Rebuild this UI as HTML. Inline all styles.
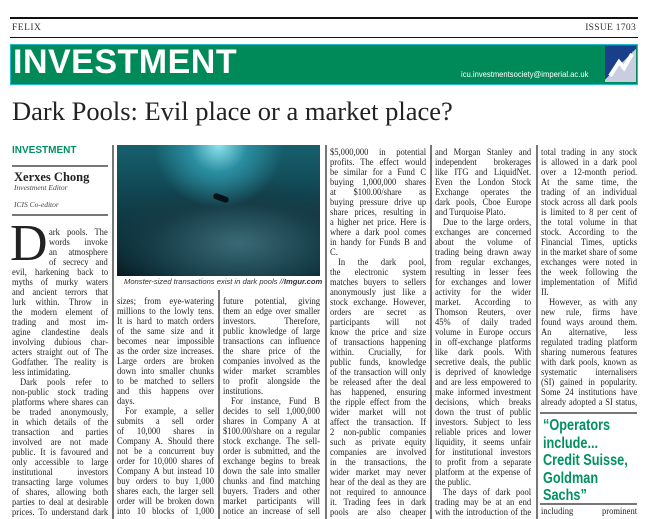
<!DOCTYPE html>
<html><head><meta charset="utf-8">
<style>
*{margin:0;padding:0;box-sizing:border-box}
body{width:646px;height:519px;overflow:hidden;background:#fff;position:relative;font-family:"Liberation Serif",serif;color:#222}
.abs{position:absolute}
.col{position:absolute;font-size:9.6px;line-height:10px;transform:scaleX(0.89);transform-origin:left top}
.col div{display:block;text-align:justify;text-align-last:justify;height:10px;overflow:hidden}
.col div.e{text-align-last:left}
.col div.i{text-indent:9px}
.vr{position:absolute;width:1.5px;background:#777}
</style></head><body>
<div class="abs" style="left:10px;top:17px;width:628px;height:1.5px;background:#111"></div>
<div class="abs" style="left:12px;top:23px;font-size:9.5px;letter-spacing:.5px;color:#333">FELIX</div>
<div class="abs" style="right:10px;top:23px;font-size:9.5px;letter-spacing:.3px;color:#333">ISSUE 1703</div>
<div class="abs" style="left:10px;top:37px;width:628px;height:1px;background:#111"></div>
<div class="abs" style="left:10px;top:44px;width:628px;height:41px;background:#008a5a;border:1.5px solid #22b8cf">
 <div class="abs" style="left:2px;top:-2px;font-family:'Liberation Sans',sans-serif;font-weight:bold;font-size:34px;color:#fff;letter-spacing:.5px">INVESTMENT</div>
 <div class="abs" style="left:450px;top:24px;font-family:'Liberation Sans',sans-serif;font-size:8.3px;color:#fff;transform:scaleX(0.92);transform-origin:left">icu.investmentsociety@imperial.ac.uk</div>
 <div class="abs" style="left:594px;top:1px;width:31px;height:36px;background:linear-gradient(135deg,#1a3f8a 50%,#c8cde0 50%)">
  <svg width="31" height="36"><polyline points="5,30 14,16 19,22 27,8" fill="none" stroke="#fff" stroke-width="4"/></svg>
 </div>
</div>
<div class="abs" style="left:12px;top:96px;font-size:26.5px;color:#222">Dark Pools: Evil place or a market place?</div>

<div class="abs" style="left:12px;top:145px;font-family:'Liberation Sans',sans-serif;font-weight:bold;font-size:10px;color:#00915e">INVESTMENT</div>
<div class="abs" style="left:12px;top:165px;width:96px;height:1.5px;background:#777"></div>
<div class="abs" style="left:14px;top:170px;font-weight:bold;font-size:12.5px">Xerxes Chong</div>
<div class="abs" style="left:14px;top:183px;font-style:italic;font-size:7.5px;color:#444">Investment Editor</div>
<div class="abs" style="left:14px;top:200px;font-style:italic;font-size:7.5px;color:#444">ICIS Co-editor</div>
<div class="abs" style="left:12px;top:214px;width:96px;height:1.5px;background:#777"></div>
<div class="abs" style="left:10px;top:222px;font-size:52px;line-height:44px">D</div>

<div class="vr" style="left:112px;top:145px;height:374px"></div>
<div class="vr" style="left:218px;top:290px;height:229px"></div>
<div class="vr" style="left:325px;top:145px;height:374px"></div>
<div class="vr" style="left:430px;top:145px;height:374px"></div>
<div class="vr" style="left:536px;top:145px;height:374px"></div>

<div class="abs" style="left:117px;top:145px;width:203px;height:131px;background:radial-gradient(ellipse 40% 60% at 50% 0%,#8fe3ef 0%,#2a8ea0 35%,transparent 80%),radial-gradient(ellipse 70% 50% at 60% 75%,#3a6a75 0%,#163d48 60%,transparent 100%),linear-gradient(#17606e,#0b2e38 70%,#06171d)">
 <div class="abs" style="left:96px;top:50px;width:16px;height:6px;background:#061216;border-radius:3px;transform:rotate(20deg)"></div>
</div>
<div class="abs" style="left:124px;top:277px;font-family:'Liberation Sans',sans-serif;font-style:italic;font-size:7.6px;color:#333">Monster-sized transactions exist in dark pools //<b>Imgur.com</b></div>

<div class="col" style="left:49px;top:228px;width:66px">
<div>ark pools. The</div><div>words invoke</div><div>an atmosphere</div><div>of secrecy and</div></div>
<div class="col" style="left:12px;top:268px;width:108px">
<div>evil, harkening back to</div><div>myths of murky waters</div><div>and ancient terrors that</div><div>lurk within. Throw in</div><div>the modern element of</div><div>trading and most im-</div><div>agine clandestine deals</div><div>involving dubious char-</div><div>acters straight out of The</div><div>Godfather. The reality is</div><div class="e">less intimidating.</div><div class="i">Dark pools refer to</div><div>non-public stock trading</div><div>platforms where shares can</div><div>be traded anonymously,</div><div>in which details of the</div><div>transaction and parties</div><div>involved are not made</div><div>public. It is favoured and</div><div>only accessible to large</div><div>institutional investors</div><div>transacting large volumes</div><div>of shares, allowing both</div><div>parties to deal at desirable</div><div>prices. To understand dark</div></div>

<div class="col" style="left:117px;top:297px;width:109px">
<div>sizes; from eye-watering</div><div>millions to the lowly tens.</div><div>It is hard to match orders</div><div>of the same size and it</div><div>becomes near impossible</div><div>as the order size increases.</div><div>Large orders are broken</div><div>down into smaller chunks</div><div>to be matched to sellers</div><div>and this happens over</div><div class="e">days.</div><div class="i">For example, a seller</div><div>submits a sell order</div><div>of 10,000 shares in</div><div>Company A. Should there</div><div>not be a concurrent buy</div><div>order for 10,000 shares of</div><div>Company A but instead 10</div><div>buy orders to buy 1,000</div><div>shares each, the larger sell</div><div>order will be broken down</div><div>into 10 blocks of 1,000</div></div>

<div class="col" style="left:223px;top:297px;width:109px">
<div>future potential, giving</div><div>them an edge over smaller</div><div>investors. Therefore,</div><div>public knowledge of large</div><div>transactions can influence</div><div>the share price of the</div><div>companies involved as the</div><div>wider market scrambles</div><div>to profit alongside the</div><div class="e">institutions.</div><div class="i">For instance, Fund B</div><div>decides to sell 1,000,000</div><div>shares in Company A at</div><div>$100.00/share on a regular</div><div>stock exchange. The sell-</div><div>order is submitted, and the</div><div>exchange begins to break</div><div>down the sale into smaller</div><div>chunks and find matching</div><div>buyers. Traders and other</div><div>market participants will</div><div>notice an increase of sell</div></div>

<div class="col" style="left:330px;top:148px;width:108px">
<div>$5,000,000 in potential</div><div>profits. The effect would</div><div>be similar for a Fund C</div><div>buying 1,000,000 shares</div><div>at $100.00/share as</div><div>buying pressure drive up</div><div>share prices, resulting in</div><div>a higher net price. Here is</div><div>where a dark pool comes</div><div>in handy for Funds B and</div><div class="e">C.</div><div class="i">In the dark pool,</div><div>the electronic system</div><div>matches buyers to sellers</div><div>anonymously just like a</div><div>stock exchange. However,</div><div>orders are secret as</div><div>participants will not</div><div>know the price and size</div><div>of transactions happening</div><div>within. Crucially, for</div><div>public funds, knowledge</div><div>of the transaction will only</div><div>be released after the deal</div><div>has happened, ensuring</div><div>the ripple effect from the</div><div>wider market will not</div><div>affect the transaction. If</div><div>2 non-public companies</div><div>such as private equity</div><div>companies are involved</div><div>in the transactions, the</div><div>wider market may never</div><div>hear of the deal as they are</div><div>not required to announce</div><div>it. Trading fees in dark</div><div>pools are also cheaper</div></div>

<div class="col" style="left:435px;top:148px;width:108px">
<div>and Morgan Stanley and</div><div>independent brokerages</div><div>like ITG and LiquidNet.</div><div>Even the London Stock</div><div>Exchange operates the</div><div>dark pools, Cboe Europe</div><div class="e">and Turquoise Plato.</div><div class="i">Due to the large orders,</div><div>exchanges are concerned</div><div>about the volume of</div><div>trading being drawn away</div><div>from regular exchanges,</div><div>resulting in lesser fees</div><div>for exchanges and lower</div><div>activity for the wider</div><div>market. According to</div><div>Thomson Reuters, over</div><div>45% of daily traded</div><div>volume in Europe occurs</div><div>in off-exchange platforms</div><div>like dark pools. With</div><div>secretive deals, the public</div><div>is deprived of knowledge</div><div>and are less empowered to</div><div>make informed investment</div><div>decisions, which breaks</div><div>down the trust of public</div><div>investors. Subject to less</div><div>reliable prices and lower</div><div>liquidity, it seems unfair</div><div>for institutional investors</div><div>to profit from a separate</div><div>platform at the expense of</div><div class="e">the public.</div><div class="i">The days of dark pool</div><div>trading may be at an end</div><div>with the introduction of the</div></div>

<div class="col" style="left:541px;top:148px;width:108px">
<div>total trading in any stock</div><div>is allowed in a dark pool</div><div>over a 12-month period.</div><div>At the same time, the</div><div>trading of an individual</div><div>stock across all dark pools</div><div>is limited to 8 per cent of</div><div>the total volume in that</div><div>stock. According to the</div><div>Financial Times, upticks</div><div>in the market share of some</div><div>exchanges were noted in</div><div>the week following the</div><div>implementation of Mifid</div><div class="e">II.</div><div class="i">However, as with any</div><div>new rule, firms have</div><div>found ways around them.</div><div>An alternative, less</div><div>regulated trading platform</div><div>sharing numerous features</div><div>with dark pools, known as</div><div>systematic internalisers</div><div>(SI) gained in popularity.</div><div>Some 24 institutions have</div><div>already adopted a SI status,</div></div>

<div class="abs" style="left:540px;top:412px;width:97px;height:2px;background:#777"></div>
<div class="abs" style="left:543px;top:417px;font-family:'Liberation Sans',sans-serif;font-weight:bold;font-size:15.5px;line-height:17.6px;color:#00915e;white-space:nowrap;transform:scaleX(0.82);transform-origin:left top">“Operators<br>include...<br>Credit Suisse,<br>Goldman<br>Sachs”</div>
<div class="abs" style="left:540px;top:503px;width:97px;height:2px;background:#777"></div>
<div class="col" style="left:541px;top:507px;width:108px"><div>including prominent</div></div>
</body></html>
